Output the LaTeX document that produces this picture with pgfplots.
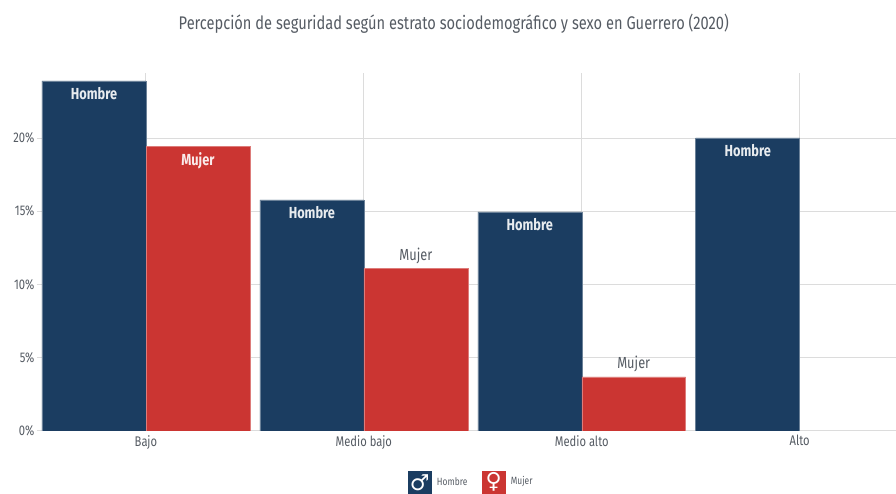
\documentclass[border=0pt]{standalone}
\usepackage{pgfplots}
\pgfplotsset{compat=1.18}
\usepackage{fontspec}
\setmainfont{Fira Sans}[FakeStretch=0.8]
\newfontfamily\sym{DejaVu Sans}
\definecolor{navy}{HTML}{1B3D61}
\definecolor{rojo}{HTML}{CB3532}
\definecolor{gridc}{HTML}{DCDCDC}
\definecolor{txt}{HTML}{555B63}
\begin{document}
\begin{tikzpicture}[x=1pt,y=1pt]
\path (0,0) rectangle (896,494);
\begin{axis}[
  at={(37pt,63pt)},anchor=south west,scale only axis,width=859pt,height=358pt,
  xmin=-0.5,xmax=3.44,ymin=0,ymax=24.44,
  axis line style={draw=none},
  xtick={0,1,2,3},xticklabels={Bajo,Medio bajo,Medio alto,Alto},
  ytick={0,5,10,15,20},yticklabels={0\%,5\%,10\%,15\%,20\%},
  grid=major,grid style={gridc,line width=0.9pt},
  major tick style={draw=none},
  tick label style={font=\fontsize{14}{16}\selectfont,text=txt},
  xticklabel style={yshift=-1pt},
  yticklabel style={xshift=1pt},
  nodes near coords style={font=\fontsize{16}{18}\selectfont},
]
\addplot[ybar,bar width=104pt,bar shift=-52pt,fill=navy,draw=white!35!navy,line width=0.5pt,
  nodes near coords={\textbf{Hombre}},
  every node near coord/.append style={anchor=north,text=white!90!navy,yshift=-3pt,xshift=-52pt}]
  coordinates {(0,23.9) (1,15.77) (2,14.95) (3,20.0)};
\addplot[ybar,bar width=104pt,bar shift=52pt,fill=rojo,draw=white!35!rojo,line width=0.5pt,
  nodes near coords={\textbf{Mujer}},
  every node near coord/.append style={anchor=north,text=white!90!rojo,yshift=-2pt,xshift=52pt}]
  coordinates {(0,19.4)};
\addplot[ybar,bar width=104pt,bar shift=52pt,fill=rojo,draw=white!35!rojo,line width=0.5pt,
  nodes near coords={Mujer},
  every node near coord/.append style={anchor=south,text=txt,yshift=1pt,xshift=52pt}]
  coordinates {(1,11.1) (2,3.69)};
\end{axis}
\node[text=txt,font=\fontsize{18.3}{20}\selectfont] at (454,470) {Percepción de seguridad según estrato sociodemográfico y sexo en Guerrero (2020)};
\fill[navy] (408,0) rectangle (432,23);
\node[text=white,font=\sym\bfseries\fontsize{22}{22}\selectfont,inner sep=0] at (420,11.5) {♂};
\node[text=txt,font=\fontsize{10.5}{12}\selectfont,anchor=west,inner sep=0] at (437,12) {Hombre};
\fill[rojo] (482,0) rectangle (506,23);
\node[text=white,font=\sym\bfseries\fontsize{22}{22}\selectfont,inner sep=0] at (494,11.5) {♀};
\node[text=txt,font=\fontsize{10.5}{12}\selectfont,anchor=west,inner sep=0] at (511,12) {Mujer};
\end{tikzpicture}
\end{document}
